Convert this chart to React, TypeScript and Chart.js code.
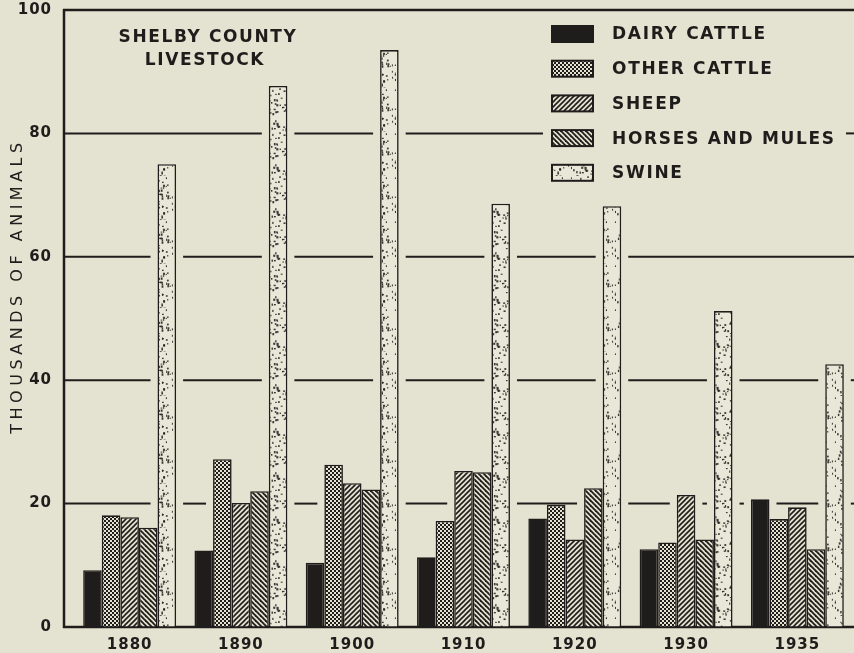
import React, { useEffect, useRef } from "react";
import { Chart, registerables } from "chart.js";

Chart.register(...registerables);

// ---------- data ----------
const years = ["1880", "1890", "1900", "1910", "1920", "1930", "1935"];
const dairyCattle = [9.2, 12.4, 10.4, 11.3, 17.6, 12.6, 20.7];
const otherCattle = [18.1, 27.2, 26.3, 17.2, 19.8, 13.7, 17.5];
const sheep = [17.8, 20.1, 23.3, 25.3, 14.2, 21.4, 19.4];
const horsesAndMules = [16.1, 22.0, 22.3, 25.1, 22.5, 14.2, 12.6];
const swine = [75.0, 87.7, 93.5, 68.6, 68.2, 51.2, 42.6];
const seriesLabels = ["DAIRY CATTLE", "OTHER CATTLE", "SHEEP", "HORSES AND MULES", "SWINE"];
const gridValues = [20, 40, 60, 80];
const yMin = 0;
const yMax = 100;
const yStep = 20;
const titleLines = ["SHELBY COUNTY", "LIVESTOCK"];
const yTitle = "THOUSANDS OF ANIMALS";

// ---------- style ----------
const INK = "#1f1d1b";
const PAPER = "#e4e3d1";
const FONT = "'DejaVu Sans'";

function makeTile(size: number, draw: (c: CanvasRenderingContext2D, s: number) => void) {
  const cv = document.createElement("canvas");
  cv.width = size;
  cv.height = size;
  const c = cv.getContext("2d")!;
  draw(c, size);
  return cv;
}

function makePatterns(ctx: CanvasRenderingContext2D) {
  const checker = makeTile(4, (c, s) => {
    c.fillStyle = PAPER;
    c.fillRect(0, 0, s, s);
    c.fillStyle = INK;
    c.fillRect(0, 0, 2, 2);
    c.fillRect(2, 2, 2, 2);
  });
  const slash = makeTile(5, (c, s) => {
    c.fillStyle = PAPER;
    c.fillRect(0, 0, s, s);
    c.strokeStyle = INK;
    c.lineWidth = 1.6;
    for (let k = -1; k <= 1; k++) {
      c.beginPath();
      c.moveTo(-1, s + k * s + 1);
      c.lineTo(s + 1, k * s - 1);
      c.stroke();
    }
  });
  const backslash = makeTile(5, (c, s) => {
    c.fillStyle = PAPER;
    c.fillRect(0, 0, s, s);
    c.strokeStyle = INK;
    c.lineWidth = 1.8;
    for (let k = -1; k <= 1; k++) {
      c.beginPath();
      c.moveTo(-1, -1 - k * s);
      c.lineTo(s + 1, s + 1 - k * s);
      c.stroke();
    }
  });
  const stipple = makeTile(44, (c, s) => {
    c.fillStyle = "#e8e7d8";
    c.fillRect(0, 0, s, s);
    c.fillStyle = "rgba(30,28,26,0.85)";
    let seed = 12345;
    const rnd = () => {
      seed = (seed * 1103515245 + 12345) % 2147483648;
      return seed / 2147483648;
    };
    for (let i = 0; i < 95; i++) {
      const px = rnd() * s;
      const py = rnd() * s;
      const w = 1 + rnd() * 1.2;
      const h = 1 + rnd() * 1.4;
      c.fillRect(px, py, w, h);
    }
  });
  return {
    solid: INK,
    checker: ctx.createPattern(checker, "repeat")!,
    slash: ctx.createPattern(slash, "repeat")!,
    backslash: ctx.createPattern(backslash, "repeat")!,
    stipple: ctx.createPattern(stipple, "repeat")!,
  };
}

const LEGEND_BOX = { x0: 543, x1: 846, y0: 18, y1: 192 };

const decorPlugin = {
  id: "decor",
  beforeDraw(chart: any) {
    const ctx = chart.ctx;
    ctx.save();
    ctx.fillStyle = PAPER;
    ctx.fillRect(0, 0, chart.width, chart.height);
    ctx.restore();
    (ctx as any).letterSpacing = "1px";
  },
  beforeDatasetsDraw(chart: any) {
    const ctx = chart.ctx as CanvasRenderingContext2D;
    const ys = chart.scales.y;
    const axisX = chart.chartArea.left - 10;
    const rightX = chart.width;
    const bars: { l: number; r: number; top: number }[] = [];
    chart.data.datasets.forEach((_: any, i: number) => {
      const meta = chart.getDatasetMeta(i);
      meta.data.forEach((el: any) => {
        const p = el.getProps(["x", "y", "width", "base"], true);
        bars.push({ l: p.x - p.width / 2, r: p.x + p.width / 2, top: p.y });
      });
    });
    ctx.save();
    ctx.strokeStyle = INK;
    ctx.lineWidth = 2;
    ctx.lineCap = "butt";
    gridValues.forEach((v) => {
      const ly = ys.getPixelForValue(v);
      const excl: [number, number][] = [];
      bars.forEach((b) => {
        if (b.top < ly + 1) excl.push([b.l - 7, b.r + 7]);
      });
      if (ly > LEGEND_BOX.y0 && ly < LEGEND_BOX.y1) excl.push([LEGEND_BOX.x0, LEGEND_BOX.x1]);
      excl.sort((a, b) => a[0] - b[0]);
      let cur = axisX;
      const segs: [number, number][] = [];
      excl.forEach(([a, b]) => {
        if (a > cur) segs.push([cur, a]);
        cur = Math.max(cur, b);
      });
      if (cur < rightX) segs.push([cur, rightX]);
      segs.forEach(([a, b]) => {
        ctx.beginPath();
        ctx.moveTo(a, ly);
        ctx.lineTo(b, ly);
        ctx.stroke();
      });
    });
    // frame
    const topY = ys.getPixelForValue(yMax);
    const botY = ys.getPixelForValue(yMin);
    ctx.lineWidth = 2.5;
    ctx.beginPath();
    ctx.moveTo(axisX, botY + 1);
    ctx.lineTo(axisX, topY - 1);
    ctx.stroke();
    ctx.beginPath();
    ctx.moveTo(axisX - 1, topY);
    ctx.lineTo(rightX, topY);
    ctx.stroke();
    ctx.beginPath();
    ctx.moveTo(axisX - 1, botY);
    ctx.lineTo(rightX, botY);
    ctx.stroke();
    ctx.restore();
  },
  afterDraw(chart: any) {
    const ctx = chart.ctx as any;
    ctx.save();
    ctx.fillStyle = INK;
    // title
    ctx.font = `bold 17px ${FONT}`;
    ctx.letterSpacing = "1.6px";
    ctx.textAlign = "center";
    ctx.textBaseline = "middle";
    ctx.fillText(titleLines[0], 208, 38);
    ctx.fillText(titleLines[1], 205, 61);
    // legend
    const fills = chart.data.datasets.map((d: any) => d.backgroundColor);
    ctx.textAlign = "left";
    ctx.letterSpacing = "1.7px";
    seriesLabels.forEach((lab, i) => {
      const cy = 34 + i * 34.7;
      ctx.fillStyle = fills[i];
      ctx.fillRect(552, cy - 8, 41, 16);
      ctx.strokeStyle = INK;
      ctx.lineWidth = 2;
      ctx.strokeRect(552, cy - 8, 41, 16);
      ctx.fillStyle = INK;
      ctx.fillText(lab, 612, cy + 1);
    });
    // y title
    ctx.font = `16px ${FONT}`;
    ctx.letterSpacing = "4.5px";
    ctx.translate(18, 288);
    ctx.rotate(-Math.PI / 2);
    ctx.textAlign = "center";
    ctx.textBaseline = "middle";
    ctx.fillText(yTitle, 2, 0);
    ctx.restore();
  },
};

export default function App() {
  const ref = useRef<HTMLCanvasElement | null>(null);
  useEffect(() => {
    const canvas = ref.current!;
    const ctx = canvas.getContext("2d")!;
    const pats = makePatterns(ctx);
    const fills = [pats.solid, pats.checker, pats.slash, pats.backslash, pats.stipple];
    const values = [dairyCattle, otherCattle, sheep, horsesAndMules, swine];
    const chart = new Chart(canvas, {
      type: "bar",
      data: {
        labels: years,
        datasets: values.map((vals, i) => ({
          label: seriesLabels[i],
          data: vals,
          backgroundColor: fills[i] as any,
          borderColor: INK,
          borderWidth: 1.6,
          categoryPercentage: 0.835,
          barPercentage: 1,
        })),
      },
      options: {
        animation: false,
        responsive: true,
        maintainAspectRatio: false,
        devicePixelRatio: 1,
        layout: { padding: { top: 10, right: 1, left: 0, bottom: 0 } },
        plugins: {
          legend: { display: false },
          tooltip: { enabled: false },
          title: { display: false },
        },
        scales: {
          x: {
            type: "category",
            grid: { display: false, drawTicks: false },
            border: { display: false },
            ticks: {
              color: INK,
              padding: 9,
              font: { family: FONT, size: 15, weight: "bold" },
            },
            afterFit: (s: any) => {
              s.height = 26;
            },
          },
          y: {
            min: yMin,
            max: yMax,
            grid: {
              display: true,
              drawOnChartArea: false,
              drawTicks: true,
              tickLength: 22,
              tickColor: "rgba(0,0,0,0)",
            },
            border: { display: false },
            ticks: {
              stepSize: yStep,
              color: INK,
              padding: 0,
              font: { family: FONT, size: 15, weight: "bold" },
            },
            afterFit: (s: any) => {
              s.width = 74;
            },
          },
        },
      },
      plugins: [decorPlugin],
    });
    return () => chart.destroy();
  }, []);
  return (
    <div
      style={{
        position: "fixed",
        left: 0,
        top: 0,
        width: 854,
        height: 653,
        background: PAPER,
      }}
    >
      <canvas ref={ref} />
    </div>
  );
}
